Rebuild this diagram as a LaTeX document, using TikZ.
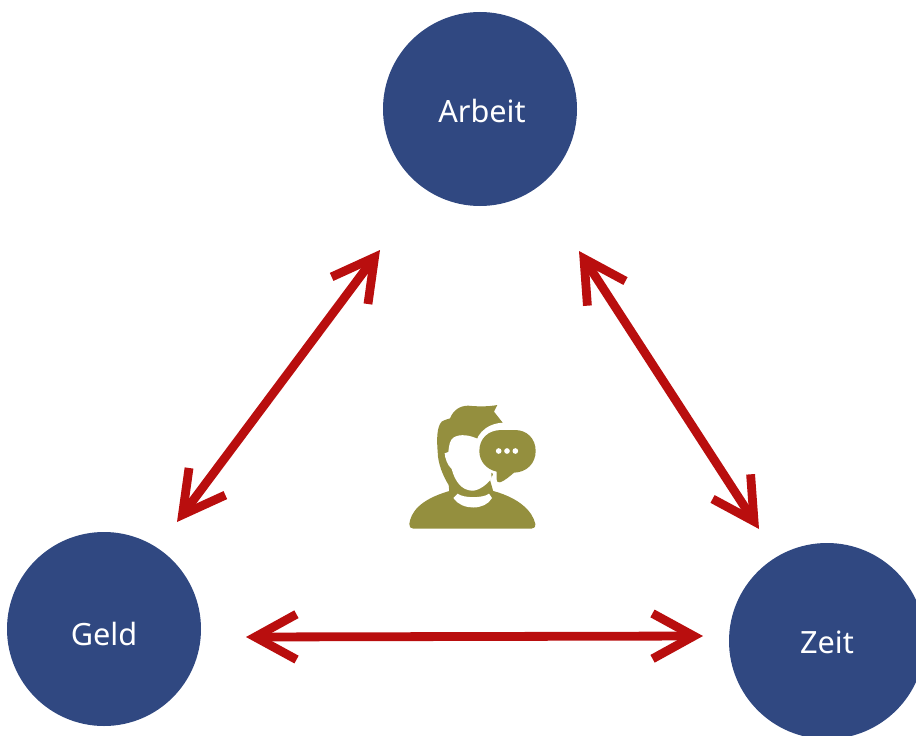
\documentclass[tikz,border=0pt]{standalone}
\usepackage{fontspec}
\setmainfont{Noto Sans}
\usetikzlibrary{arrows.meta}
\definecolor{blau}{HTML}{304881}
\definecolor{rot}{HTML}{B90E0E}
\definecolor{oliv}{HTML}{948F3E}
\tikzset{
  kreis/.style={circle,fill=blau,inner sep=0pt},
  beschr/.style={text=white,inner sep=0pt,font=\fontsize{23pt}{28pt}\selectfont},
  pfeil/.style={draw=rot,line width=6.6pt,{Straight Barb[length=31pt,width=34pt,line width=6.6pt]}-{Straight Barb[length=31pt,width=34pt,line width=6.6pt]}},
}
\begin{document}
\begin{tikzpicture}[x=0.75pt,y=-0.75pt]
\useasboundingbox (0,0) rectangle (916,735);
\clip (0,0) rectangle (916,735);
\node[kreis,minimum size=145.5pt,label={[beschr,xshift=1.5pt,yshift=-1.5pt]center:Arbeit}] (arbeit) at (480,109) {};
\node[kreis,minimum size=145.5pt,label={[beschr,yshift=-3.7pt]center:Geld}] (geld) at (104,629) {};
\node[kreis,minimum size=147pt,label={[beschr,yshift=-0.7pt]center:Zeit}] (zeit) at (827,641) {};
\coordinate (ag) at (380,250);
\coordinate (ga) at (177,522);
\coordinate (az) at (579,251);
\coordinate (za) at (759,529);
\coordinate (gz) at (246,637);
\coordinate (zg) at (703,636);
\draw[pfeil] (ag) -- (ga);
\draw[pfeil] (az) -- (za);
\draw[pfeil] (gz) -- (zg);
\begin{scope}[shift={(390,390)},x=0.25pt,y=-0.25pt]
% Schultern
\fill[oliv] (58,402) .. controls (62,370) and (85,330) .. (178,303) -- (310,303) .. controls (390,325) and (428,365) .. (436,402) .. controls (437,412) and (430,416) .. (424,416) -- (70,416) .. controls (62,416) and (57,410) .. (58,402) -- cycle;
% Kopf und Haare
\fill[oliv] (178,305) -- (176,285) .. controls (160,260) and (143,220) .. (143,185) .. controls (140,150) and (140,110) .. (155,95) .. controls (165,88) and (175,88) .. (180,85) .. controls (190,60) and (210,47) .. (235,47) .. controls (265,50) and (295,50) .. (322,45) -- (312,65) -- (338,98) -- (338,200) -- (300,270) -- (310,305) -- cycle;
% Kragen
\fill[white] (203,311) .. controls (220,325) and (280,325) .. (297,311) -- (306,324) .. controls (285,362) and (215,362) .. (190,324) -- cycle;
% Gesicht
\fill[white] (190,143) .. controls (210,130) and (240,136) .. (262,146) -- (300,200) -- (305,265) .. controls (290,285) and (265,303) .. (245,302) .. controls (215,300) and (195,275) .. (185,237) .. controls (172,225) and (165,205) .. (164,190) -- (175,186) .. controls (177,165) and (180,150) .. (190,143) -- cycle;
% Sprechblase
\fill[white] (256,183) .. controls (250,140) and (285,100) .. (340,98) -- (385,110) .. controls (420,110) and (448,140) .. (448,183) .. controls (448,225) and (420,255) .. (375,258) -- (360,262) -- (318,290) -- (308,250) .. controls (280,240) and (258,215) .. (256,183) -- cycle;
\fill[oliv] (268,183) .. controls (268,145) and (295,120) .. (335,120) -- (375,120) .. controls (410,120) and (437,145) .. (437,183) .. controls (437,220) and (410,247) .. (372,248) .. controls (360,258) and (345,272) .. (330,277) .. controls (323,279) and (320,274) .. (320,268) -- (320,245) .. controls (290,238) and (268,215) .. (268,183) -- cycle;
\fill[white] (326,183) circle[radius=8.5] (351,183) circle[radius=8.5] (376,183) circle[radius=8.5];
\end{scope}
\end{tikzpicture}
\end{document}
